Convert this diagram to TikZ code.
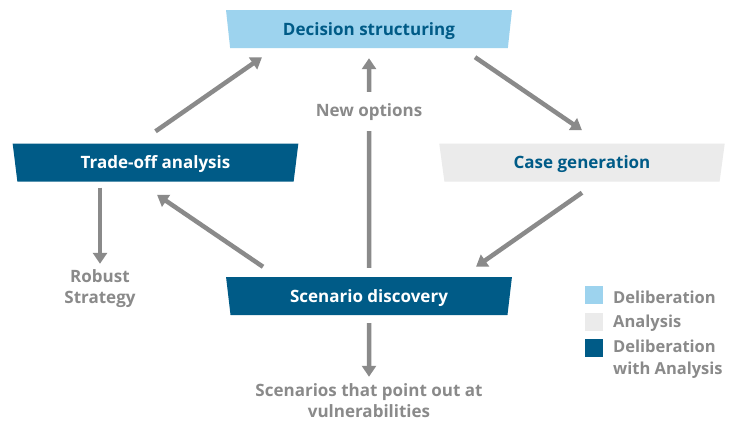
\documentclass[tikz,border=0pt]{standalone}
\usepackage{fontspec}
\setmainfont{Open Sans}
\usetikzlibrary{shapes.geometric,arrows.meta,calc}
\definecolor{lblue}{HTML}{9DD3EE}
\definecolor{dblue}{HTML}{005B87}
\definecolor{lgray}{HTML}{EBEBEB}
\definecolor{agray}{HTML}{8A8A8A}
\tikzset{
  box/.style={trapezium, trapezium stretches=true, shape border rotate=180,
    trapezium angle=78, minimum width=286pt, minimum height=38pt, inner sep=0pt,
    text height=12pt, text depth=0pt,
    font=\fontsize{17}{20}\selectfont\bfseries},
  arr/.style={draw=agray, line width=4.5pt, -{Triangle[width=14pt,length=11pt]}},
  glabel/.style={text=agray, font=\fontsize{17}{21}\selectfont\bfseries, align=center, inner sep=0pt},
  lsq/.style={minimum size=18pt, inner sep=0pt},
  ltext/.style={text=agray, font=\fontsize{16.5}{22}\selectfont\bfseries, anchor=west, align=left, inner sep=0pt}
}
\begin{document}
\begin{tikzpicture}[x=1pt,y=-1pt]
\fill[white] (0,0) rectangle (740,421);
\useasboundingbox (0,0) rectangle (740,421);
\node[box, fill=lblue, text=dblue] (ds) at (369,29) {Decision structuring};
\node[box, fill=dblue, text=white] (td) at (155.5,162.5) {Trade-off analysis};
\node[box, fill=lgray, text=dblue] (cg) at (582,162.5) {Case generation};
\node[box, fill=dblue, text=white] (sd) at (369,296) {Scenario discovery};
\node[glabel] (rs) at (100,289) {Robust\\Strategy};
\node[glabel] (sv) at (369,401) {Scenarios that point out at\\vulnerabilities};
\draw[arr] ([yshift=12pt]td.north) -- ([xshift=-107pt,yshift=-9pt]ds.south);
\draw[arr] ([xshift=106pt,yshift=-9pt]ds.south) -- ([yshift=13pt]cg.north);
\draw[arr] ([yshift=-11pt]cg.south) -- ([xshift=107pt,yshift=10pt]sd.north);
\draw[arr] ([xshift=-106pt,yshift=10pt]sd.north) -- ([xshift=1.5pt,yshift=-13pt]td.south);
\draw[arr] ([yshift=9pt]sd.north) -- node[pos=0.745, fill=white, text=agray, font=\fontsize{17}{20}\selectfont\bfseries, inner xsep=2pt, inner ysep=11pt] (no) {New options} ([yshift=-10pt]ds.south);
\draw[arr] ([yshift=-6pt]td.south -| rs.north) -- ([yshift=6pt]rs.north);
\draw[arr] ([yshift=-8pt]sd.south) -- ([yshift=7pt]sv.north);
\node[lsq, fill=lblue] (l1) at (594,295) {};
\node[lsq, fill=lgray] (l2) at (594,321.5) {};
\node[lsq, fill=dblue] (l3) at (594,348) {};
\node[ltext] (t1) at (613,297) {Deliberation};
\node[ltext] (t2) at (613,323) {Analysis};
\node[ltext, anchor=north west] (t3) at (613,340) {Deliberation\\with Analysis};
\end{tikzpicture}
\end{document}
